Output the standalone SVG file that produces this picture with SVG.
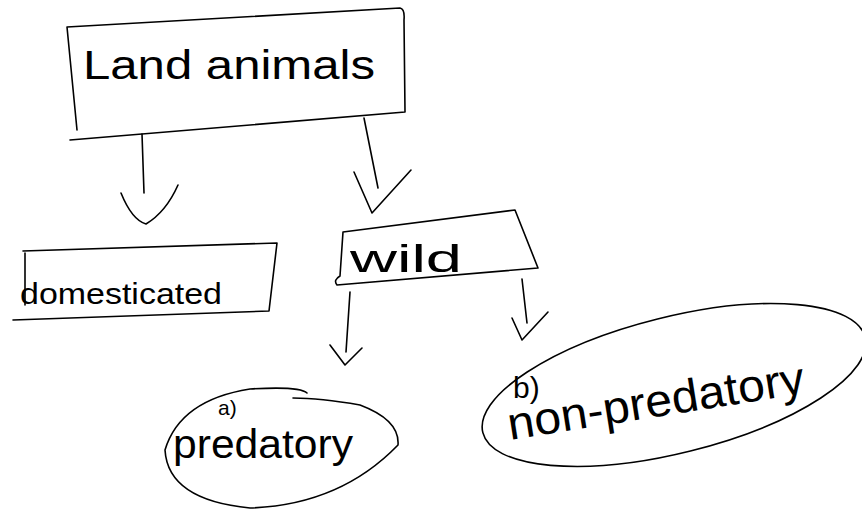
<svg xmlns="http://www.w3.org/2000/svg" width="862" height="512" viewBox="0 0 862 512">
<style>
.s{fill:none;stroke:#000;stroke-width:1.6;stroke-linecap:round;stroke-linejoin:round}
.t{font-family:"Liberation Sans",Arial,sans-serif;fill:#000}
</style>
<rect width="862" height="512" fill="#fff"/>
<g id="connectors">
<path class="s" d="M142,134 L144,193"/>
<path class="s" d="M121,193 Q132,220 146,224 Q166,212 178,185"/>
<path class="s" d="M364,118 L378,188"/>
<path class="s" d="M354,172 L372,213 L411,170"/>
<path class="s" d="M350,292 L346,352"/>
<path class="s" d="M330,345 L345,365 L362,348"/>
<path class="s" d="M522,279 L527,323"/>
<path class="s" d="M512,318 L522,340 L548,312"/>
</g>
<g id="land-animals">
<path class="s" d="M67,27 L400,8 Q405,9 404,20 L405,112 L70,140 M67,27 L77,130"/>
<text class="t" x="83" y="79" font-size="40" textLength="292" lengthAdjust="spacingAndGlyphs">Land animals</text>
</g>
<g id="domesticated">
<path class="s" d="M23,251 L277,243 L269,311 L13,320 M25,253 L25,305"/>
<text class="t" x="20" y="304" font-size="30" textLength="202" lengthAdjust="spacingAndGlyphs">domesticated</text>
</g>
<g id="wild">
<path class="s" d="M343,232 L515,210 L538,268 L337,285 Q333,280 340,276 L343,232"/>
<text class="t" x="350" y="272" font-size="38" textLength="112" lengthAdjust="spacingAndGlyphs">wild</text>
</g>
<g id="predatory">
<path class="s" d="M307,393 Q300,386 250,389 Q180,400 165,450 Q168,500 250,508 Q340,505 398,445 Q400,420 360,405 Q320,398 293,398"/>
<text class="t" x="218" y="415" font-size="21">a)</text>
<text class="t" x="173" y="458" font-size="40" textLength="180" lengthAdjust="spacingAndGlyphs">predatory</text>
</g>
<g id="non-predatory">
<ellipse class="s" cx="674" cy="385" rx="197" ry="68" transform="rotate(-14 674 385)"/>
<text class="t" x="513" y="398" font-size="30">b)</text>
<text class="t" x="510" y="440" font-size="46" textLength="300" lengthAdjust="spacingAndGlyphs" transform="rotate(-9 510 440)">non-predatory</text>
</g>
</svg>
